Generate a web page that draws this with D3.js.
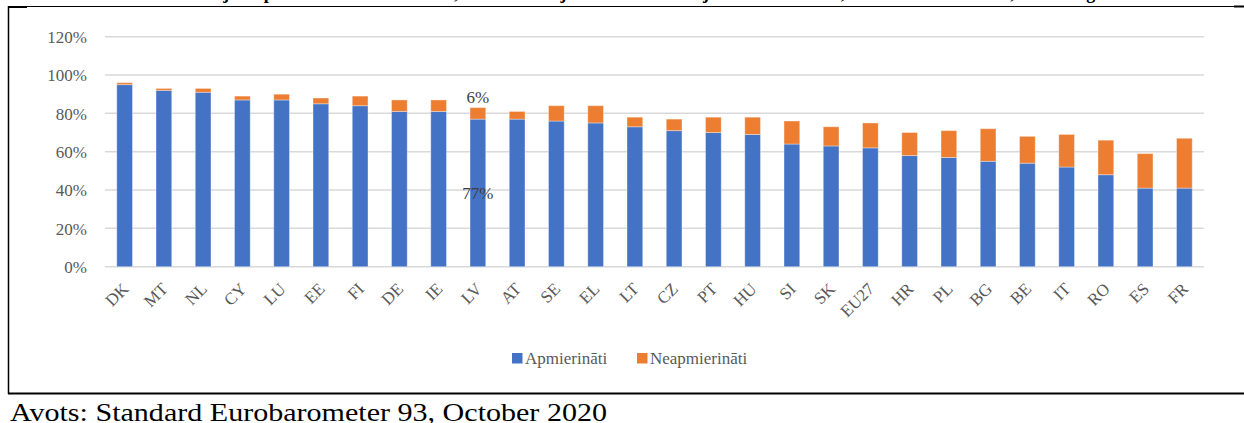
<!DOCTYPE html>
<html>
<head>
<meta charset="utf-8">
<script src="https://cdn.jsdelivr.net/npm/d3@7"></script>
<style>
  body { margin: 0; background: #ffffff; }
  svg { display: block; }
</style>
</head>
<body>
<div id="chart"></div>
<script>
// data (percent)
let countries = ["DK", "MT", "NL", "CY", "LU", "EE", "FI", "DE", "IE", "LV", "AT", "SE", "EL", "LT",
  "CZ", "PT", "HU", "SI", "SK", "EU27", "HR", "PL", "BG", "BE", "IT", "RO", "ES", "FR"];
let satisfied = [95, 92, 91, 87, 87, 85, 84, 81, 81, 77, 77, 76, 75, 73,
  71, 70, 69, 64, 63, 62, 58, 57, 55, 54, 52, 48, 41, 41];
let dissatisfied = [1, 1, 2, 2, 3, 3, 5, 6, 6, 6, 4, 8, 9, 5,
  6, 8, 9, 12, 10, 13, 12, 14, 17, 14, 17, 18, 18, 26];
let yTicks = [0, 20, 40, 60, 80, 100, 120];
let seriesNames = ["Apmierināti", "Neapmierināti"];
let labelledCountry = "LV";

let width = 1244, height = 423;
let serif = "'Liberation Serif', 'Times New Roman', serif";

let svg = d3.select("#chart")
  .append("svg")
    .attr("width", width)
    .attr("height", height);

svg.append("rect")
  .attr("width", width)
  .attr("height", height)
  .style("fill", "#ffffff");

// clipped heading line from the page above the chart
svg.append("text")
  .attr("x", 10)
  .attr("y", -1)
  .attr("textLength", 1215)
  .attr("lengthAdjust", "spacing")
  .style("font-family", serif)
  .style("font-weight", "bold")
  .style("font-size", "18px")
  .style("fill", "#000")
  .text("3.1. attēls. Iedzīvotāju apmierinātība ar to, kā darbojas demokrātija savā valstī, ES dalībvalstīs, 2020. gada oktobris");

// table frame around the chart
svg.append("line").attr("x1", 8).attr("y1", 6.5).attr("x2", 1234).attr("y2", 6.5)
  .style("stroke", "#000").style("stroke-width", 1);
svg.append("line").attr("x1", 8).attr("y1", 7).attr("x2", 27).attr("y2", 7)
  .style("stroke", "#000").style("stroke-width", 2);
svg.append("line").attr("x1", 1234).attr("y1", 6.5).attr("x2", 1244).attr("y2", 6.5)
  .style("stroke", "#000").style("stroke-width", 2);
svg.append("line").attr("x1", 8.5).attr("y1", 6).attr("x2", 8.5).attr("y2", 394)
  .style("stroke", "#000").style("stroke-width", 1.5);
svg.append("line").attr("x1", 8).attr("y1", 393.5).attr("x2", 1244).attr("y2", 393.5)
  .style("stroke", "#000").style("stroke-width", 2);

// scales
let x = d3.scaleBand()
  .domain(countries)
  .range([105, 1204])
  .paddingInner(0.6)
  .paddingOuter(0.3);

let y = d3.scaleLinear()
  .domain([0, 120])
  .range([266.7, 36.7]);

// gridlines
svg.append("g")
  .selectAll("line")
  .data(yTicks)
  .join("line")
    .attr("x1", 105)
    .attr("x2", 1204)
    .attr("y1", d => y(d))
    .attr("y2", d => y(d))
    .style("stroke", "#d9d9d9")
    .style("stroke-width", 1.5);

// Y axis labels
svg.append("g")
  .attr("transform", "translate(87,0)")
  .call(d3.axisLeft(y).tickValues(yTicks).tickSize(0).tickPadding(0).tickFormat(d => d + "%"))
  .call(g => g.select(".domain").remove())
  .selectAll("text")
    .attr("dy", "0.35em")
    .style("font-family", serif)
    .style("font-size", "17px")
    .style("fill", "#595959");

// stacked bars
let stackData = countries.map((c, i) => ({country: c, a: satisfied[i], b: dissatisfied[i]}));
let stacked = d3.stack().keys(["a", "b"])(stackData);
let colors = ["#4472C4", "#ED7D31"];

svg.append("g")
  .selectAll("g")
  .data(stacked)
  .join("g")
    .style("fill", (d, i) => colors[i])
  .selectAll("rect")
  .data(d => d)
  .join("rect")
    .attr("x", d => x(d.data.country))
    .attr("y", d => y(d[1]))
    .attr("width", x.bandwidth())
    .attr("height", d => y(d[0]) - y(d[1]))
    .style("stroke", "#ffffff")
    .style("stroke-opacity", 0.35)
    .style("stroke-width", 1);

// X axis labels, rotated
svg.append("g")
  .selectAll("text")
  .data(countries)
  .join("text")
    .attr("text-anchor", "end")
    .attr("transform", d => "translate(" + (x(d) + x.bandwidth() / 2 + 5) + ",290) rotate(-45)")
    .style("font-family", serif)
    .style("font-size", "17px")
    .style("fill", "#595959")
    .text(d => d);

// data labels for LV
let li = countries.indexOf(labelledCountry);
let lcx = x(labelledCountry) + x.bandwidth() / 2;
svg.append("text")
  .attr("x", lcx)
  .attr("y", y(satisfied[li] / 2))
  .attr("dy", "0.35em")
  .attr("text-anchor", "middle")
  .style("font-family", serif)
  .style("font-size", "17px")
  .style("fill", "#404040")
  .text(satisfied[li] + "%");
svg.append("text")
  .attr("x", lcx)
  .attr("y", y(satisfied[li] + dissatisfied[li]) - 5)
  .attr("text-anchor", "middle")
  .style("font-family", serif)
  .style("font-size", "17px")
  .style("fill", "#404040")
  .text(dissatisfied[li] + "%");

// legend
let legendX = [512, 637];
let legend = svg.append("g")
  .selectAll("g")
  .data(seriesNames)
  .join("g")
    .attr("transform", (d, i) => "translate(" + legendX[i] + ",353)");
legend.append("rect")
  .attr("width", 10.5)
  .attr("height", 10.5)
  .style("fill", (d, i) => colors[i]);
legend.append("text")
  .attr("x", 13)
  .attr("y", 11)
  .style("font-family", serif)
  .style("font-size", "17px")
  .style("fill", "#595959")
  .text(d => d);

// source line
svg.append("text")
  .attr("x", 10)
  .attr("y", 421)
  .attr("textLength", 597)
  .attr("lengthAdjust", "spacingAndGlyphs")
  .style("font-family", serif)
  .style("font-size", "26px")
  .style("fill", "#000")
  .text("Avots: Standard Eurobarometer 93, October 2020");
</script>
</body>
</html>
